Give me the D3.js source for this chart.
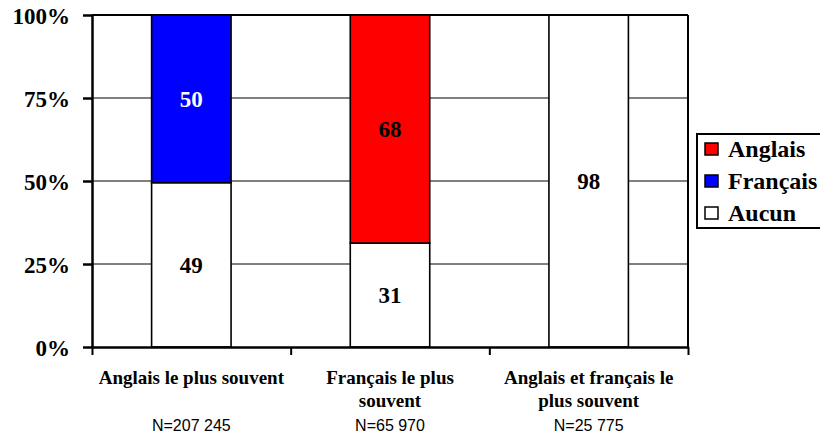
<!DOCTYPE html>
<html lang="fr">
<head>
<meta charset="UTF-8">
<title>Langue le plus souvent</title>
<script src="https://d3js.org/d3.v7.min.js"></script>
<style>
    body { margin: 0; background: white; }
    svg { display: block; }
</style>
</head>
<body>
<svg id="chart" width="820" height="434"></svg>
<script>
    // Data
    const categories = ["Anglais le plus souvent", "Français le plus souvent", "Anglais et français le plus souvent"];
    const categoryLines = [["Anglais le plus souvent"], ["Français le plus", "souvent"], ["Anglais et français le", "plus souvent"]];
    const nLabels = ["N=207 245", "N=65 970", "N=25 775"];
    const seriesNames = ["Aucun", "Français", "Anglais"];
    const aucun = [49, 31, 98];
    const francais = [50, 0, 0];
    const anglais = [0, 68, 0];
    const yTicks = [0, 0.25, 0.5, 0.75, 1];

    const SERIF = '"Liberation Serif", "Times New Roman", Times, serif';
    const SANS = '"Liberation Sans", Arial, Helvetica, sans-serif';

    const colors = { "Aucun": "#ffffff", "Français": "#0000ff", "Anglais": "#ff0000" };
    const labelColors = { "Aucun": "#000", "Français": "#fff", "Anglais": "#000" };

    const rows = categories.map((c, i) => ({
        cat: c, "Aucun": aucun[i], "Français": francais[i], "Anglais": anglais[i]
    }));

    const margin = { top: 15, left: 92, right: 688, bottom: 347 };
    const svg = d3.select("#chart");

    function serif(sel, size) {
        return sel.style("font-family", SERIF).style("font-weight", "bold").style("font-size", size + "px");
    }

    const x = d3.scaleBand()
        .domain(categories)
        .range([margin.left, margin.right])
        .paddingInner(0.6)
        .paddingOuter(0.3);
    const xEdges = d3.scaleLinear().domain([0, categories.length]).range([margin.left, margin.right]);
    const y = d3.scaleLinear().domain([0, 1]).range([margin.bottom, margin.top]);

    const stacked = d3.stack()
        .keys(seriesNames)
        .offset(d3.stackOffsetExpand)(rows);

    // gridlines
    svg.append("g")
        .selectAll("line")
        .data(yTicks.slice(1, -1))
        .join("line")
        .attr("x1", margin.left).attr("x2", margin.right)
        .attr("y1", d => y(d)).attr("y2", d => y(d))
        .attr("stroke", "#000").attr("stroke-width", 1);

    // bars
    svg.append("g")
        .selectAll("g")
        .data(stacked)
        .join("g")
        .attr("fill", d => colors[d.key])
        .selectAll("rect")
        .data(d => d.filter(s => s[1] - s[0] > 0))
        .join("rect")
        .attr("x", d => x(d.data.cat))
        .attr("y", d => y(d[1]))
        .attr("width", x.bandwidth())
        .attr("height", d => y(d[0]) - y(d[1]))
        .attr("stroke", "#000")
        .attr("stroke-width", 1.6);

    // value labels
    svg.append("g")
        .selectAll("g")
        .data(stacked)
        .join("g")
        .attr("fill", d => labelColors[d.key])
        .selectAll("text")
        .data(d => d.filter(s => s.data[d.key] >= 5).map(s => ({ s, v: s.data[d.key] })))
        .join("text")
        .call(serif, 23)
        .attr("text-anchor", "middle")
        .attr("x", d => x(d.s.data.cat) + x.bandwidth() / 2)
        .attr("y", d => (y(d.s[0]) + y(d.s[1])) / 2 + 8)
        .text(d => d.v);

    // plot frame top / right
    svg.append("line")
        .attr("x1", margin.left).attr("x2", margin.right)
        .attr("y1", margin.top).attr("y2", margin.top)
        .attr("stroke", "#000").attr("stroke-width", 2);
    svg.append("line")
        .attr("x1", margin.right).attr("x2", margin.right)
        .attr("y1", margin.top).attr("y2", margin.bottom)
        .attr("stroke", "#000").attr("stroke-width", 2);

    // y axis
    const yAxis = svg.append("g")
        .attr("transform", `translate(${margin.left},0)`)
        .call(d3.axisLeft(y).tickValues(yTicks).tickFormat(d3.format(".0%")).tickSize(9).tickPadding(13).tickSizeOuter(0));
    yAxis.select(".domain").attr("stroke-width", 2.5);
    yAxis.selectAll(".tick line").attr("stroke-width", 2.5);
    yAxis.selectAll("text")
        .call(serif, 23)
        .attr("fill", "#000")
        .attr("dy", "0.35em");

    // x axis (ticks at category edges)
    const xAxis = svg.append("g")
        .attr("transform", `translate(0,${margin.bottom})`)
        .call(d3.axisBottom(xEdges).tickValues(d3.range(categories.length + 1)).tickFormat("").tickSize(8).tickSizeOuter(0));
    xAxis.select(".domain").attr("stroke-width", 2.5);
    xAxis.selectAll(".tick line").attr("stroke-width", 2);

    // category labels
    const catG = svg.append("g");
    categories.forEach((c, i) => {
        const cx = x(c) + x.bandwidth() / 2;
        categoryLines[i].forEach((line, j) => {
            catG.append("text")
                .call(serif, 19)
                .attr("text-anchor", "middle")
                .attr("x", cx)
                .attr("y", 384 + j * 23)
                .text(line);
        });
        catG.append("text")
            .style("font-family", SANS)
            .style("font-size", "16px")
            .attr("text-anchor", "middle")
            .attr("x", cx)
            .attr("y", 431)
            .text(nLabels[i]);
    });

    // legend
    const legend = svg.append("g");
    legend.append("rect")
        .attr("x", 697).attr("y", 134)
        .attr("width", 140).attr("height", 94)
        .attr("fill", "none").attr("stroke", "#000").attr("stroke-width", 2);
    const legendItems = seriesNames.slice().reverse();
    legend.selectAll("g.item")
        .data(legendItems)
        .join("g")
        .attr("class", "item")
        .attr("transform", (d, i) => `translate(705,${149 + i * 32})`)
        .each(function (d) {
            const g = d3.select(this);
            g.append("rect")
                .attr("x", 0).attr("y", -6)
                .attr("width", 13).attr("height", 12)
                .attr("fill", colors[d])
                .attr("stroke", "#000").attr("stroke-width", 1.5);
            g.append("text")
                .call(serif, 24)
                .attr("x", 23)
                .attr("y", 8)
                .text(d);
        });
</script>
</body>
</html>
